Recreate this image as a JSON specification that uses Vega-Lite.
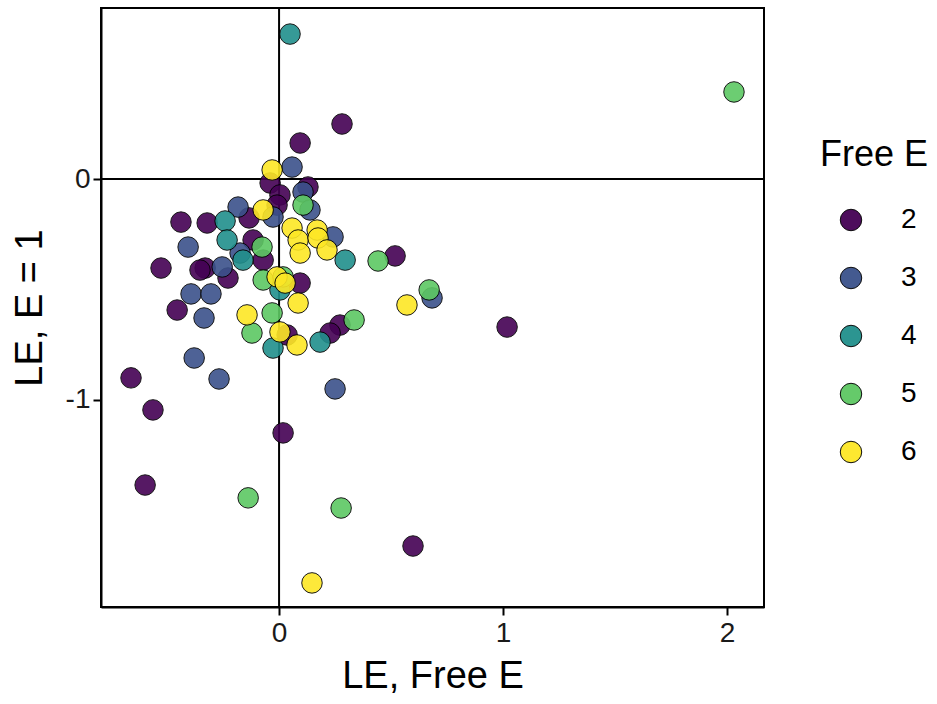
{
  "$schema": "https://vega.github.io/schema/vega-lite/v6.json",
  "autosize": "none",
  "width": 663,
  "height": 599,
  "padding": {"left": 101, "top": 8, "right": 173, "bottom": 97},
  "background": "white",
  "config": {
    "font": "Liberation Sans",
    "view": {"stroke": "black", "strokeWidth": 2},
    "axis": {"grid": false, "domainColor": "black", "domainWidth": 2, "tickColor": "black", "tickWidth": 2, "tickSize": 8,
      "labelFont": "Liberation Sans", "labelFontSize": 28, "labelColor": "#1a1a1a", "titleFont": "Liberation Sans", "titleFontSize": 38, "titleFontWeight": "normal", "titleColor": "black"}
  },
  "datasets": {
    "pts": [
      {"x": 0.281, "y": 0.249, "g": "2"},
      {"x": 0.094, "y": 0.163, "g": "2"},
      {"x": -0.661, "y": -0.900, "g": "2"},
      {"x": -0.563, "y": -1.045, "g": "2"},
      {"x": -0.598, "y": -1.385, "g": "2"},
      {"x": 0.018, "y": -1.149, "g": "2"},
      {"x": 0.598, "y": -1.661, "g": "2"},
      {"x": 1.018, "y": -0.670, "g": "2"},
      {"x": 0.518, "y": -0.348, "g": "2"},
      {"x": -0.438, "y": -0.195, "g": "2"},
      {"x": -0.527, "y": -0.403, "g": "2"},
      {"x": -0.455, "y": -0.593, "g": "2"},
      {"x": -0.321, "y": -0.199, "g": "2"},
      {"x": -0.330, "y": -0.403, "g": "2"},
      {"x": -0.353, "y": -0.412, "g": "2"},
      {"x": 0.272, "y": -0.661, "g": "2"},
      {"x": 0.228, "y": -0.697, "g": "2"},
      {"x": 0.036, "y": -0.706, "g": "2"},
      {"x": 0.094, "y": -0.471, "g": "2"},
      {"x": -0.040, "y": -0.018, "g": "2"},
      {"x": 0.004, "y": -0.072, "g": "2"},
      {"x": 0.129, "y": -0.036, "g": "2"},
      {"x": -0.228, "y": -0.448, "g": "2"},
      {"x": -0.134, "y": -0.176, "g": "2"},
      {"x": -0.116, "y": -0.276, "g": "2"},
      {"x": -0.009, "y": -0.118, "g": "2"},
      {"x": -0.071, "y": -0.367, "g": "2"},
      {"x": 0.058, "y": 0.054, "g": "3"},
      {"x": -0.406, "y": -0.308, "g": "3"},
      {"x": -0.393, "y": -0.520, "g": "3"},
      {"x": -0.335, "y": -0.629, "g": "3"},
      {"x": -0.304, "y": -0.520, "g": "3"},
      {"x": -0.379, "y": -0.810, "g": "3"},
      {"x": -0.268, "y": -0.905, "g": "3"},
      {"x": 0.250, "y": -0.950, "g": "3"},
      {"x": 0.683, "y": -0.538, "g": "3"},
      {"x": 0.241, "y": -0.262, "g": "3"},
      {"x": -0.254, "y": -0.398, "g": "3"},
      {"x": -0.183, "y": -0.127, "g": "3"},
      {"x": 0.107, "y": -0.059, "g": "3"},
      {"x": -0.027, "y": -0.172, "g": "3"},
      {"x": 0.138, "y": -0.140, "g": "3"},
      {"x": -0.174, "y": -0.335, "g": "3"},
      {"x": 0.049, "y": 0.656, "g": "4"},
      {"x": 0.295, "y": -0.367, "g": "4"},
      {"x": 0.183, "y": -0.738, "g": "4"},
      {"x": -0.027, "y": -0.765, "g": "4"},
      {"x": -0.241, "y": -0.190, "g": "4"},
      {"x": -0.232, "y": -0.276, "g": "4"},
      {"x": -0.161, "y": -0.367, "g": "4"},
      {"x": 0.004, "y": -0.502, "g": "4"},
      {"x": 2.031, "y": 0.394, "g": "5"},
      {"x": -0.138, "y": -1.443, "g": "5"},
      {"x": 0.277, "y": -1.489, "g": "5"},
      {"x": 0.335, "y": -0.638, "g": "5"},
      {"x": 0.442, "y": -0.371, "g": "5"},
      {"x": 0.670, "y": -0.502, "g": "5"},
      {"x": -0.121, "y": -0.697, "g": "5"},
      {"x": -0.031, "y": -0.606, "g": "5"},
      {"x": 0.107, "y": -0.118, "g": "5"},
      {"x": -0.076, "y": -0.308, "g": "5"},
      {"x": -0.071, "y": -0.457, "g": "5"},
      {"x": 0.018, "y": -0.443, "g": "5"},
      {"x": 0.147, "y": -1.828, "g": "6"},
      {"x": 0.571, "y": -0.570, "g": "6"},
      {"x": -0.143, "y": -0.615, "g": "6"},
      {"x": 0.080, "y": -0.751, "g": "6"},
      {"x": 0.085, "y": -0.561, "g": "6"},
      {"x": -0.031, "y": 0.041, "g": "6"},
      {"x": -0.071, "y": -0.140, "g": "6"},
      {"x": 0.058, "y": -0.222, "g": "6"},
      {"x": 0.170, "y": -0.231, "g": "6"},
      {"x": 0.085, "y": -0.276, "g": "6"},
      {"x": 0.174, "y": -0.267, "g": "6"},
      {"x": 0.214, "y": -0.321, "g": "6"},
      {"x": 0.094, "y": -0.335, "g": "6"},
      {"x": -0.009, "y": -0.443, "g": "6"},
      {"x": 0.027, "y": -0.471, "g": "6"},
      {"x": 0.004, "y": -0.692, "g": "6"}
    ],
    "refx": [{"v": 0}],
    "refy": [{"v": 0}]
  },
  "layer": [
    {
      "data": {"name": "refx"},
      "mark": {"type": "rule", "color": "black", "strokeWidth": 2},
      "encoding": {"x": {"field": "v", "type": "quantitative"}}
    },
    {
      "data": {"name": "refy"},
      "mark": {"type": "rule", "color": "black", "strokeWidth": 2},
      "encoding": {"y": {"field": "v", "type": "quantitative"}}
    },
    {
      "data": {"name": "pts"},
      "mark": {"type": "point", "filled": true, "shape": "circle", "size": 420, "stroke": "black", "strokeWidth": 1, "opacity": 0.9},
      "encoding": {
        "x": {"field": "x", "type": "quantitative", "scale": {"domain": [-0.795, 2.165], "nice": false, "zero": false},
          "axis": {"values": [0, 1, 2], "labelExpr": "datum.value + ''", "title": "LE, Free E", "labelPadding": 4, "titlePadding": 10}},
        "y": {"field": "y", "type": "quantitative", "scale": {"domain": [-1.937, 0.774], "nice": false, "zero": false},
          "axis": {"values": [-1, 0], "labelExpr": "datum.value + ''", "title": "LE, E = 1", "labelPadding": 3, "titlePadding": 16}},
        "color": {"field": "g", "type": "nominal", "title": "Free E",
          "scale": {"domain": ["2", "3", "4", "5", "6"], "range": ["#440154", "#3B528B", "#21908C", "#5DC863", "#FDE725"]},
          "legend": {"orient": "none", "legendX": 719, "legendY": 130, "titleFont": "Liberation Sans", "titleFontSize": 36, "titleFontWeight": "normal", "titleColor": "black", "titlePadding": 32,
            "labelFont": "Liberation Sans", "labelFontSize": 28, "labelColor": "black", "labelOffset": 36, "symbolOffset": 17,
            "symbolSize": 460, "symbolStrokeColor": "black", "symbolStrokeWidth": 1, "symbolOpacity": 0.95, "rowPadding": 30}}
      }
    }
  ]
}
